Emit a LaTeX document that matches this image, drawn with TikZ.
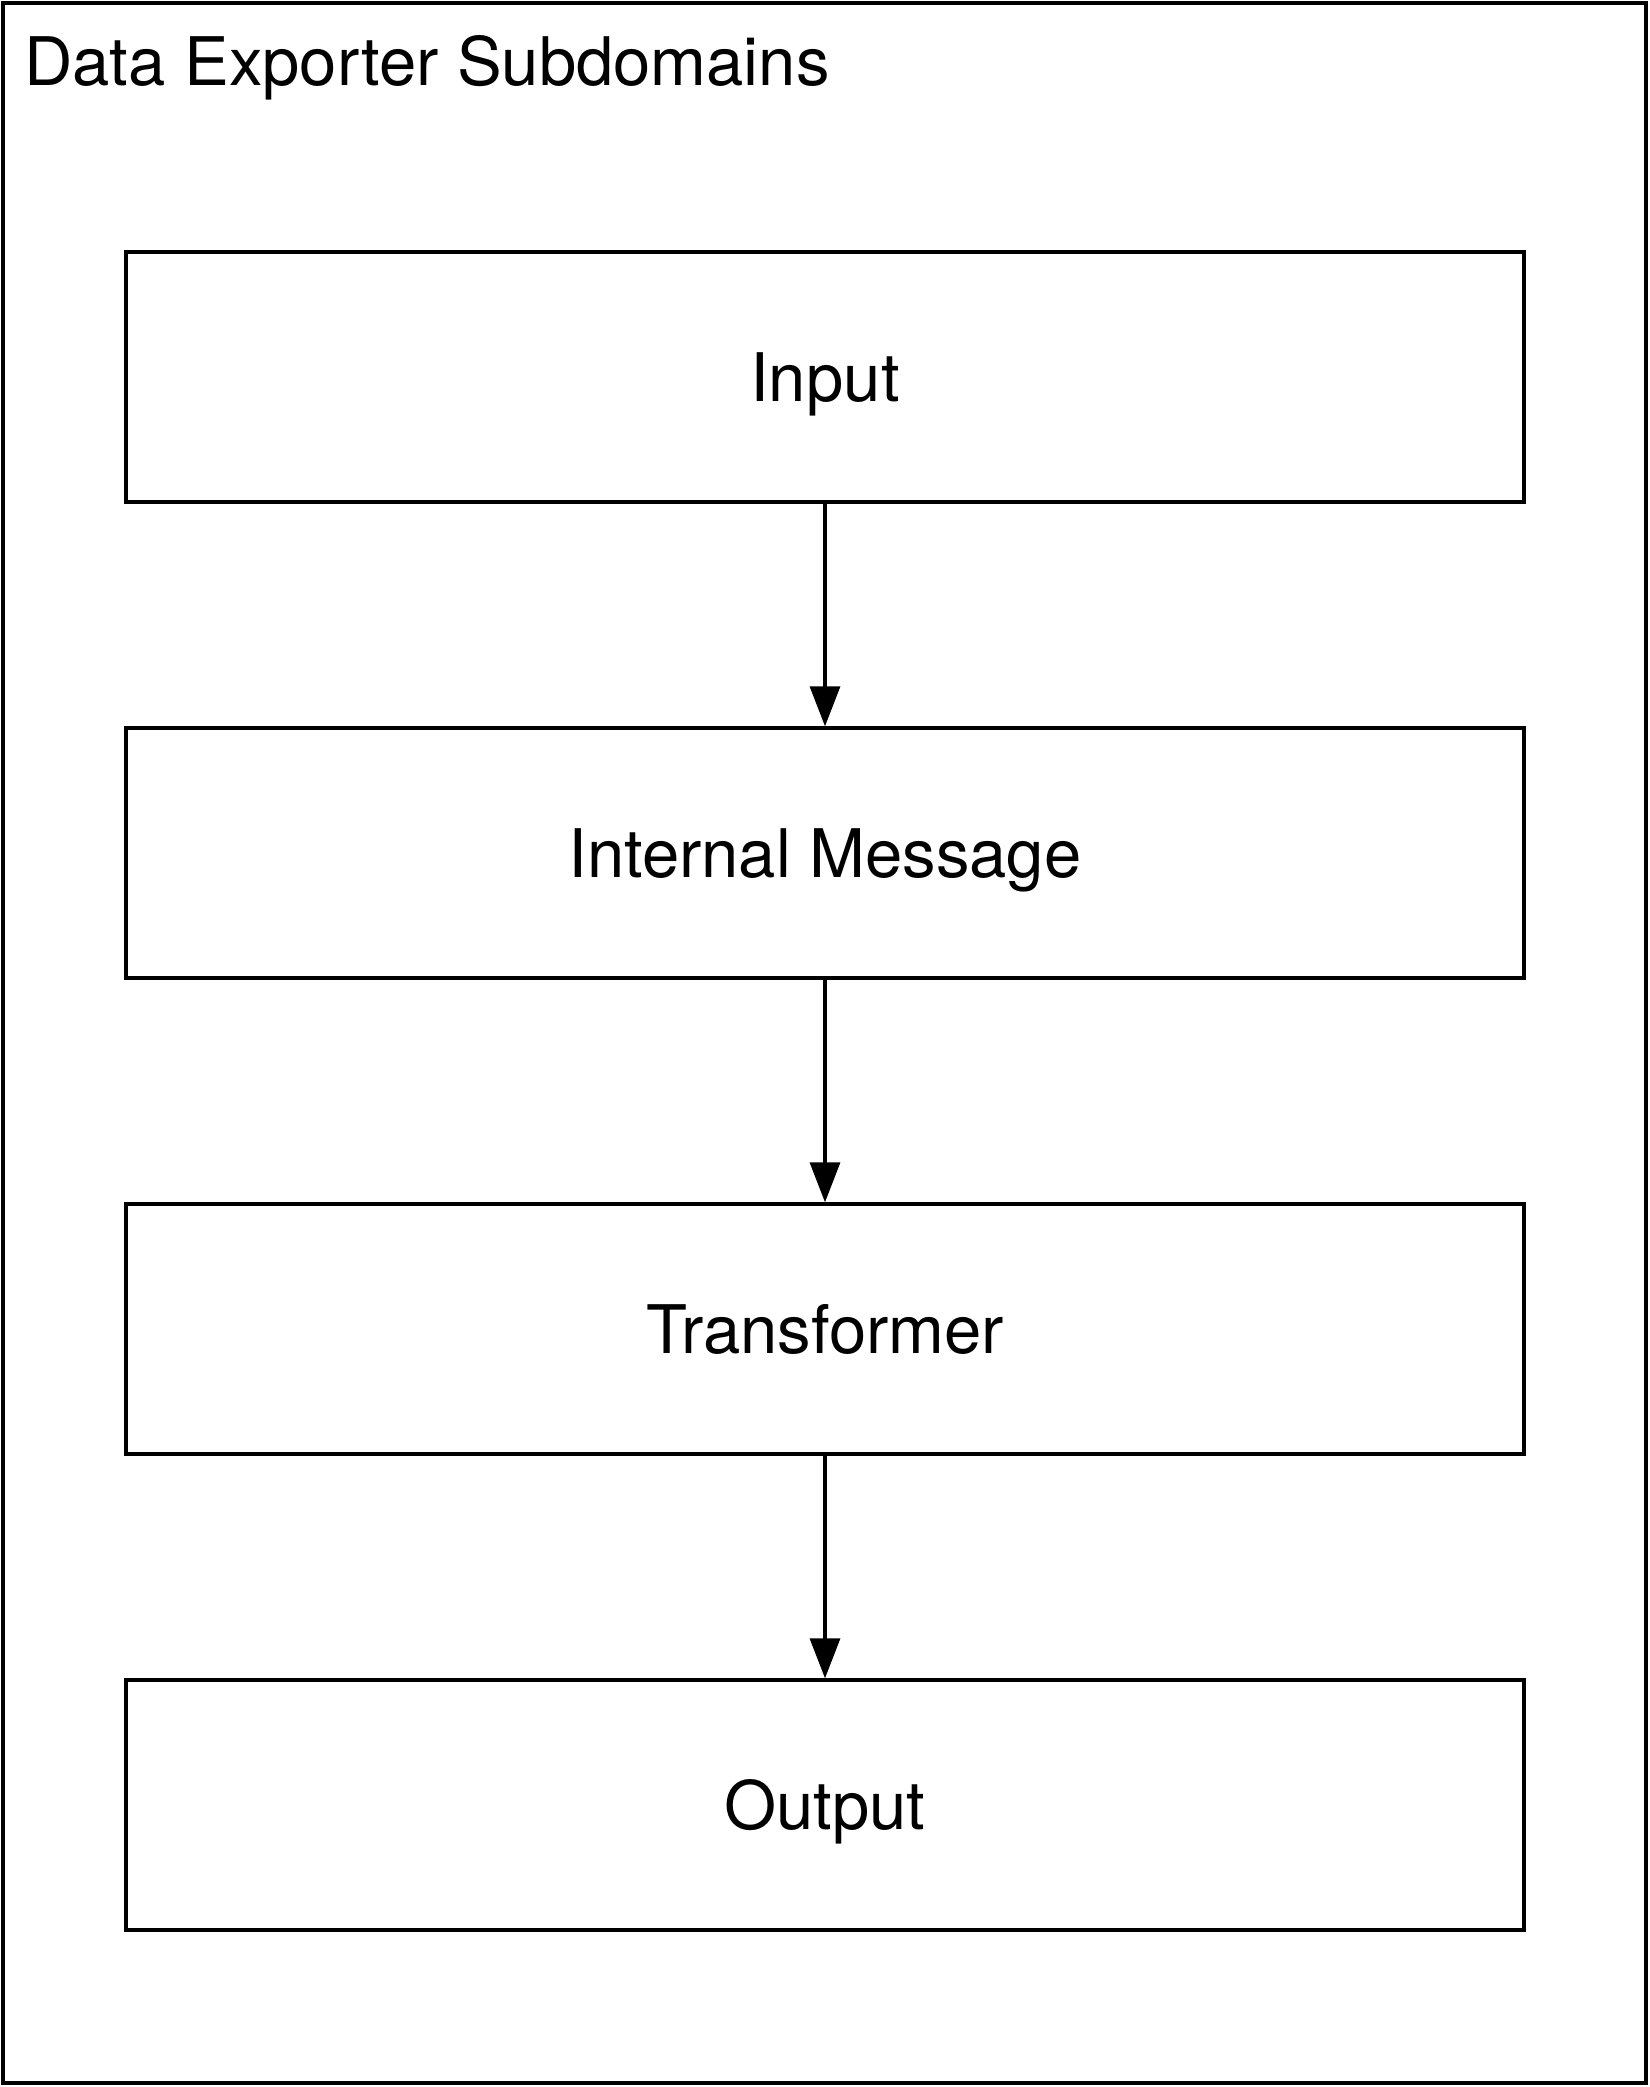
\documentclass[tikz,border=0pt]{standalone}
\usepackage{fontspec}
\setmainfont{TeX Gyre Heros}
\usetikzlibrary{arrows.meta}
\tikzset{
  stagebox/.style={draw, line width=3.4pt, minimum width=1398pt, minimum height=250pt, inner sep=0pt, text height=62pt, text depth=14pt, font=\fontsize{67}{80}\selectfont},
  flow/.style={line width=3.4pt, -{Triangle[width=30pt,length=40pt]}}
}
\begin{document}
\begin{tikzpicture}[x=1pt,y=-1pt]
\useasboundingbox (0,0) rectangle (1649,2087);
\draw[line width=4pt] (3,3) rectangle (1646,2083);
\node[anchor=base west, inner sep=0pt, font=\fontsize{67}{80}\selectfont] (title) at (24,86) {Data Exporter Subdomains};
\node[stagebox] (input) at (825,377) {Input};
\node[stagebox] (msg) at (825,853) {Internal Message};
\node[stagebox] (trans) at (825,1329) {Transformer};
\node[stagebox] (output) at (825,1805) {Output};
\draw[flow] (input) -- (msg);
\draw[flow] (msg) -- (trans);
\draw[flow] (trans) -- (output);
\end{tikzpicture}
\end{document}
